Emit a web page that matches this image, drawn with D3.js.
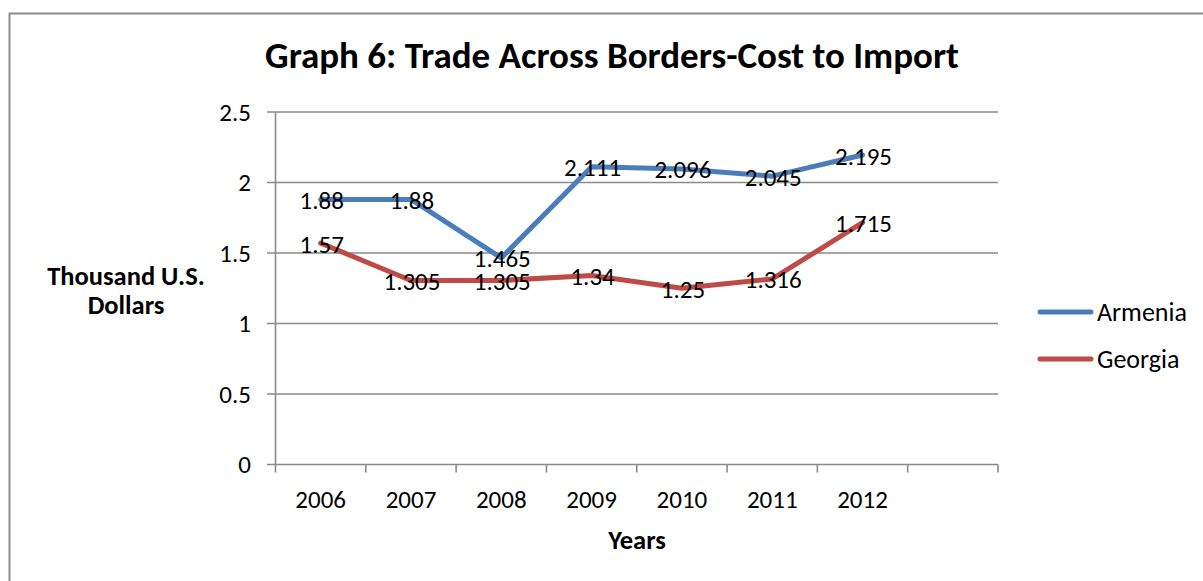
<!DOCTYPE html>
<html>
<head>
<meta charset="utf-8">
<script src="https://cdn.jsdelivr.net/npm/d3@7"></script>
<style>
  html, body { margin: 0; padding: 0; background: #fff; }
  svg { display: block; }
  text { font-family: Carlito, "Open Sans", sans-serif; fill: #000; }
</style>
</head>
<body>
<script>
// Cost to import, thousand U.S. dollars
const years = ["2006", "2007", "2008", "2009", "2010", "2011", "2012"];
const armenia = [1.88, 1.88, 1.465, 2.111, 2.096, 2.045, 2.195];
const georgia = [1.57, 1.305, 1.305, 1.34, 1.25, 1.316, 1.715];
const yTicks = [0, 0.5, 1, 1.5, 2, 2.5];
const seriesNames = ["Armenia", "Georgia"];
const seriesColors = ["#4a7ebb", "#be4b48"];

const W = 1203, H = 581;
const svg = d3.select("body").append("svg").attr("width", W).attr("height", H);

// outer chart frame
svg.append("rect")
  .attr("x", 9.5).attr("y", 13.5).attr("width", W + 20).attr("height", H + 20)
  .attr("fill", "none").attr("stroke", "#8c8c8c").attr("stroke-width", 2);

// the category axis keeps one empty slot after the last year
const slots = years.concat([""]);
const x = d3.scaleBand().domain(slots).range([275.5, 998]).padding(0);
const y = d3.scaleLinear().domain([0, 2.5]).range([464.5, 112]);
const cx = d => x(d) + x.bandwidth() / 2;

// horizontal gridlines with small outside ticks
const grid = svg.append("g").attr("class", "grid");
grid.selectAll("line").data(yTicks).join("line")
  .attr("x1", 267).attr("x2", 998)
  .attr("y1", d => y(d)).attr("y2", d => y(d))
  .attr("stroke", "#8a8a8a").attr("stroke-width", 1.6);

// value axis line
svg.append("line")
  .attr("x1", 275.5).attr("x2", 275.5).attr("y1", y(2.5)).attr("y2", y(0))
  .attr("stroke", "#8a8a8a").attr("stroke-width", 1.6);

// value axis labels
svg.append("g").selectAll("text").data(yTicks).join("text")
  .attr("x", 251).attr("y", d => y(d))
  .attr("text-anchor", "end").attr("dominant-baseline", "central")
  .attr("font-size", 25)
  .text(d => d3.format("")(d));

// category axis tick marks at band edges
const edges = slots.map(s => x(s)).concat([x.range()[1]]);
svg.append("g").selectAll("line").data(edges).join("line")
  .attr("x1", d => d).attr("x2", d => d)
  .attr("y1", y(0)).attr("y2", y(0) + 8)
  .attr("stroke", "#8a8a8a").attr("stroke-width", 1.6);

// category labels
svg.append("g").selectAll("text").data(years).join("text")
  .attr("x", d => cx(d)).attr("y", 499)
  .attr("text-anchor", "middle").attr("dominant-baseline", "central")
  .attr("font-size", 25)
  .text(d => d);

// series lines and value labels
const seriesData = [armenia, georgia];
const line = d3.line().x((d, i) => cx(years[i])).y(d => y(d));
seriesData.forEach((vals, k) => {
  svg.append("path")
    .attr("d", line(vals))
    .attr("fill", "none")
    .attr("stroke", seriesColors[k])
    .attr("stroke-width", 5)
    .attr("stroke-linejoin", "round")
    .attr("stroke-linecap", "round");
});
seriesData.forEach(vals => {
  svg.append("g").selectAll("text").data(vals).join("text")
    .attr("x", (d, i) => cx(years[i]) + 1)
    .attr("y", (d, i) => y(d) + 1)
    .attr("text-anchor", "middle").attr("dominant-baseline", "central")
    .attr("font-size", 25)
    .text(d => d);
});

// title
svg.append("text")
  .attr("x", 612).attr("y", 68)
  .attr("text-anchor", "middle")
  .attr("font-size", 37).attr("font-weight", "bold")
  .text("Graph 6: Trade Across Borders-Cost to Import");

// axis titles
const yTitle = svg.append("text")
  .attr("text-anchor", "middle").attr("font-size", 26.5).attr("font-weight", "bold");
yTitle.append("tspan").attr("x", 126).attr("y", 285).text("Thousand U.S.");
yTitle.append("tspan").attr("x", 126).attr("y", 314).text("Dollars");

svg.append("text")
  .attr("x", 637).attr("y", 549)
  .attr("text-anchor", "middle").attr("font-size", 26.5).attr("font-weight", "bold")
  .text("Years");

// legend
const legend = svg.append("g").selectAll("g").data(seriesNames).join("g")
  .attr("transform", (d, i) => `translate(0,${312 + i * 47})`);
legend.append("line")
  .attr("x1", 1040).attr("x2", 1091).attr("y1", 0).attr("y2", 0)
  .attr("stroke", (d, i) => seriesColors[i])
  .attr("stroke-width", 5).attr("stroke-linecap", "round");
legend.append("text")
  .attr("x", 1097).attr("y", 0)
  .attr("dominant-baseline", "central").attr("font-size", 26)
  .text(d => d);
</script>
</body>
</html>
